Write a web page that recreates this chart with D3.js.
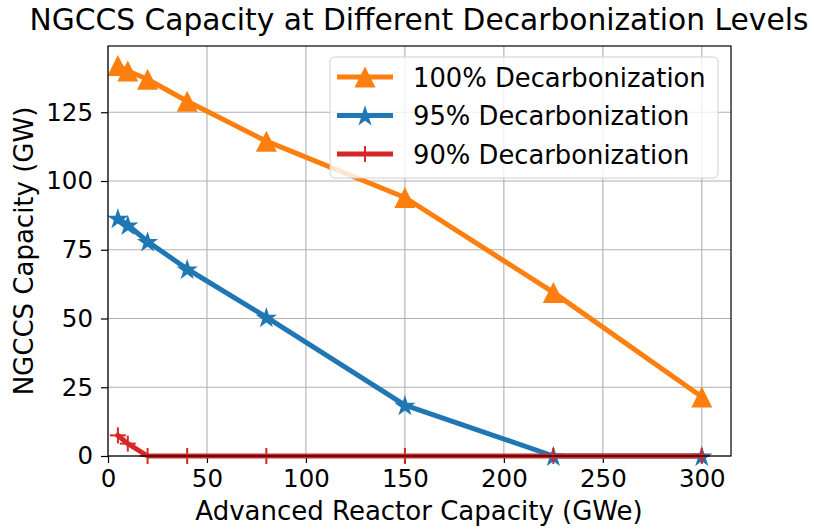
<!DOCTYPE html>
<html><head><meta charset="utf-8">
<script src="https://cdn.jsdelivr.net/npm/d3@7"></script>
<style>body{margin:0;background:#fff;} text{font-family:"DejaVu Sans",sans-serif;}</style>
</head><body>
<svg id="c" width="814" height="531"></svg>
<script>
const xValues = [5, 10, 20, 40, 80, 150, 225, 300];
const dec100 = [142, 140, 137, 129, 114.5, 94, 59.5, 21.5];
const dec95 = [86.5, 84, 78, 68, 50.5, 18.5, 0, 0];
const dec90 = [7.5, 4.5, 0, 0, 0, 0, 0, 0];
const seriesNames = ["100% Decarbonization", "95% Decarbonization", "90% Decarbonization"];
const seriesColors = ["#ff7f0e", "#1f77b4", "#d62728"];
const seriesMarkers = ["triangle", "star", "plus"];
const xTicks = [0, 50, 100, 150, 200, 250, 300];
const yTicks = [0, 25, 50, 75, 100, 125];

const svg = d3.select("#c");
const L = 108, R = 731, T = 46, B = 456;
const x = d3.scaleLinear().domain([0, 314.75]).range([L, R]);
const y = d3.scaleLinear().domain([0, 149.1]).range([B, T]);

// grid
const g = svg.append("g");
g.selectAll(".gx").data(xTicks).enter().append("line")
  .attr("x1", d => x(d)).attr("x2", d => x(d)).attr("y1", T).attr("y2", B)
  .attr("stroke", "#b0b0b0").attr("stroke-width", 1.1);
g.selectAll(".gy").data(yTicks).enter().append("line")
  .attr("y1", d => y(d)).attr("y2", d => y(d)).attr("x1", L).attr("x2", R)
  .attr("stroke", "#b0b0b0").attr("stroke-width", 1.1);

// axes
const xAxis = d3.axisBottom(x).tickValues(xTicks).tickSize(7).tickPadding(7).tickFormat(d3.format("d"));
const yAxis = d3.axisLeft(y).tickValues(yTicks).tickSize(7).tickPadding(8).tickFormat(d3.format("d"));
const gx = svg.append("g").attr("transform", `translate(0,${B})`).call(xAxis);
const gy = svg.append("g").attr("transform", `translate(${L},0)`).call(yAxis);
[gx, gy].forEach(a => {
  a.select(".domain").remove();
  a.selectAll("line").attr("stroke", "#000").attr("stroke-width", 1.2);
  a.selectAll("text").attr("font-size", "24.5px").attr("fill", "#000").attr("font-family", "DejaVu Sans");
});

const series = [dec100, dec95, dec90];
const plot = svg.append("g");

function drawMarker(sel, type, color, cx, cy) {
  if (type === "plus") {
    sel.append("line").attr("x1", cx - 8).attr("x2", cx + 8).attr("y1", cy).attr("y2", cy).attr("stroke", color).attr("stroke-width", 2);
    sel.append("line").attr("x1", cx).attr("x2", cx).attr("y1", cy - 8).attr("y2", cy + 8).attr("stroke", color).attr("stroke-width", 2);
  } else if (type === "triangle") {
    const h = 10.5;
    sel.append("path").attr("d", `M0,${-h}L${h},${h}L${-h},${h}Z`).attr("transform", `translate(${cx},${cy})`).attr("fill", color);
  } else {
    sel.append("path").attr("d", d3.symbol().type(d3.symbolStar).size(140)()).attr("transform", `translate(${cx},${cy + 1})`).attr("fill", color);
  }
}

series.forEach((vals, i) => {
  const pts = xValues.map((xv, j) => [xv, vals[j]]);
  const gs = plot.append("g");
  gs.append("path").datum(pts)
    .attr("d", d3.line().x(d => x(d[0])).y(d => y(d[1])))
    .attr("fill", "none").attr("stroke", seriesColors[i]).attr("stroke-width", 5)
    .attr("stroke-linejoin", "round").attr("stroke-linecap", "square");
  pts.forEach(p => drawMarker(gs, seriesMarkers[i], seriesColors[i], x(p[0]), y(p[1])));
});

// spines
svg.append("rect").attr("x", L).attr("y", T).attr("width", R - L).attr("height", B - T)
  .attr("fill", "none").attr("stroke", "#000").attr("stroke-width", 1.2);

// legend
const lg = svg.append("g");
lg.append("rect").attr("x", 330).attr("y", 57).attr("width", 388).attr("height", 121).attr("rx", 5)
  .attr("fill", "#fff").attr("fill-opacity", 0.8).attr("stroke", "#d0d0d0").attr("stroke-width", 1);
seriesNames.forEach((n, i) => {
  const cy = 77 + i * 38.5;
  lg.append("line").attr("x1", 337).attr("x2", 393).attr("y1", cy).attr("y2", cy)
    .attr("stroke", seriesColors[i]).attr("stroke-width", 5);
  drawMarker(lg, seriesMarkers[i], seriesColors[i], 365, cy);
  lg.append("text").attr("x", 413).attr("y", cy + 9.5).attr("font-size", "25.8px").text(n);
});

// labels
svg.append("text").attr("x", 419).attr("y", 30).attr("text-anchor", "middle").attr("font-size", "29.7px")
  .text("NGCCS Capacity at Different Decarbonization Levels");
svg.append("text").attr("x", 419).attr("y", 520).attr("text-anchor", "middle").attr("font-size", "26px")
  .text("Advanced Reactor Capacity (GWe)");
svg.append("text").attr("transform", `translate(33,${(T + B) / 2}) rotate(-90)`).attr("text-anchor", "middle").attr("font-size", "26px")
  .text("NGCCS Capacity (GW)");
</script>
</body></html>
